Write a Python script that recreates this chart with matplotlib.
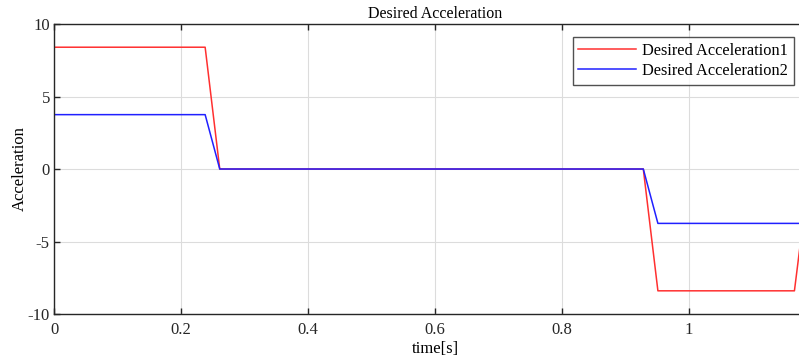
import matplotlib.pyplot as plt
import numpy as np

plt.rcParams['font.family'] = ['Liberation Serif', 'DejaVu Serif']
plt.rcParams['axes.unicode_minus'] = False

# time breakpoints of the two desired acceleration profiles
t = [0, 0.238, 0.261, 0.928, 0.951, 1.166, 1.19]
acc1 = [8.4, 8.4, 0, 0, -8.4, -8.4, 0]
acc2 = [3.75, 3.75, 0, 0, -3.75, -3.75, -3.75]

xticks = [0, 0.2, 0.4, 0.6, 0.8, 1.0]
xticklabels = ['0', '0.2', '0.4', '0.6', '0.8', '1']
yticks = [-10, -5, 0, 5, 10]

fig = plt.figure(figsize=(7.99, 3.59), dpi=100)
# axes runs past the right edge of the figure, like the cropped original
ax = fig.add_axes([0.0676, 0.1253, 0.9537, 0.8078])

ax.plot(t, acc1, color='#ff3030', lw=1.1, label='Desired Acceleration1')
ax.plot(t, acc2, color='#2020ff', lw=1.1, label='Desired Acceleration2')

ax.set_xlim(0, 1.2)
ax.set_ylim(-10, 10)
ax.set_xticks(xticks)
ax.set_xticklabels(xticklabels)
ax.set_yticks(yticks)
ax.grid(True, color='#dcdcdc', lw=0.8)
ax.tick_params(direction='in', length=4, width=1, top=True, right=False,
               labelsize=12, colors='#262626')
ax.tick_params(axis='x', pad=6)
ax.tick_params(axis='y', pad=3)
for s in ax.spines.values():
    s.set_color('#262626')
    s.set_linewidth(1)

ax.set_xlabel('time[s]', fontsize=12, labelpad=2)
ax.set_ylabel('Acceleration', fontsize=12, labelpad=0)
ax.set_title('Desired Acceleration', fontsize=11.5, pad=4)

leg = ax.legend(loc='upper right', bbox_to_anchor=(0.971, 0.955), fontsize=11.8,
                frameon=True, fancybox=False, handlelength=3.5,
                borderpad=0.35, labelspacing=0.25, handletextpad=0.4,
                borderaxespad=0)
leg.get_frame().set_edgecolor('#262626')
leg.get_frame().set_linewidth(1)

plt.savefig('out.png', dpi=100)
plt.close()
